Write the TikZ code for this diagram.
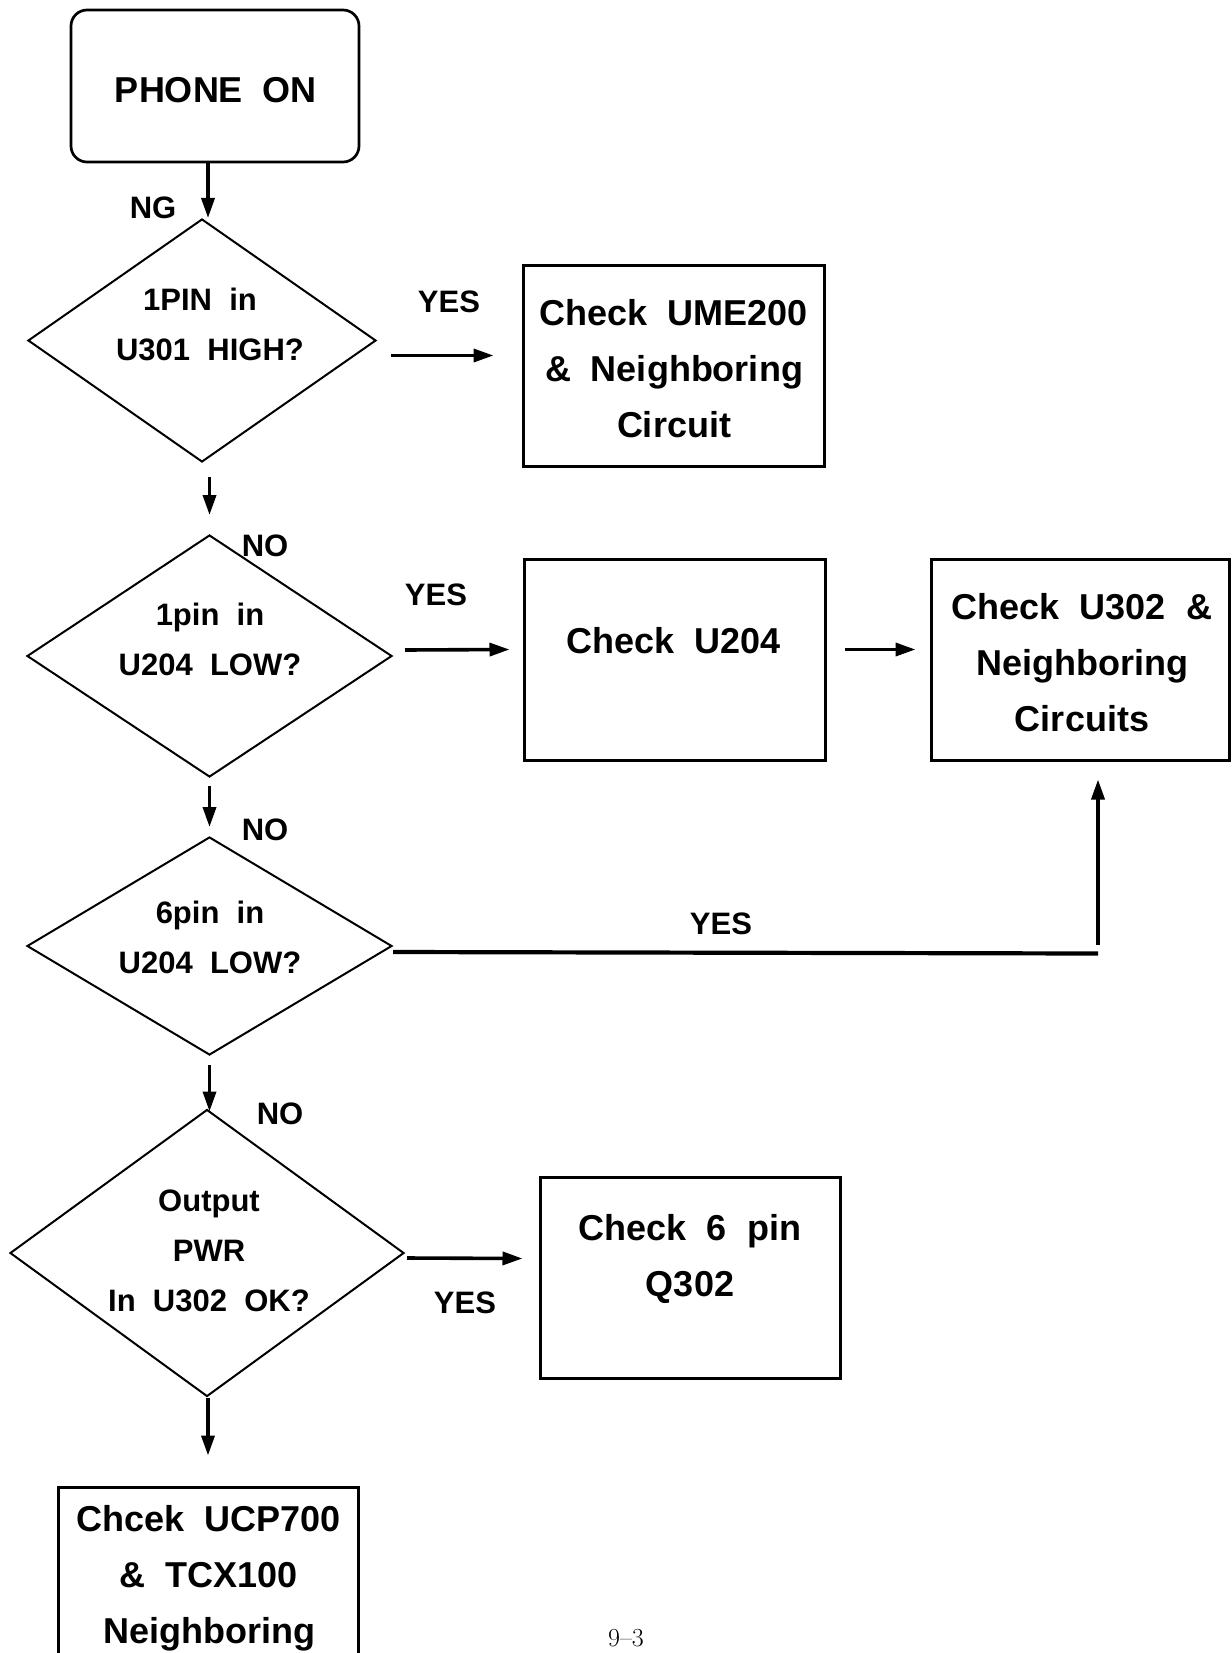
\documentclass[tikz,border=0pt]{standalone}
\usepackage{fontspec}
\newfontfamily\arial{Liberation Sans}
\usetikzlibrary{shapes.geometric,arrows.meta,calc}
\begin{document}
\begin{tikzpicture}[x=1pt,y=-1pt,
  dia/.style={draw, line width=2pt, shape=diamond, inner sep=0pt, shape aspect=1},
  box/.style={draw, line width=3pt, rectangle, inner sep=0pt},
  txt/.style={font=\arial\bfseries\fontsize{36}{56}\selectfont, align=center, inner sep=0pt},
  dtxt/.style={font=\arial\bfseries\fontsize{31}{50}\selectfont, align=center, inner sep=0pt},
  lbl/.style={font=\arial\bfseries\fontsize{31}{37}\selectfont, inner sep=0pt},
  arr/.style={line width=3.6pt, -{Triangle[length=20pt,width=13pt]}}
]
\useasboundingbox (0,0) rectangle (1231,1653);
\clip (0,0) rectangle (1231,1653);

% start
\node[draw, line width=2.7pt, rounded corners=16pt, minimum width=288pt, minimum height=152pt] (start) at (215,86) {};
\node[txt] (startt) at (216,90) {PHONE\ \ ON};

% diamonds
\node[dia, minimum width=348pt, minimum height=243pt] (d1) at (202,340.5) {};
\node[dtxt] (d1t) at (210,324.5) {1PIN\ \ in\hspace*{20pt}\\U301\ \ HIGH?};

\node[dia, minimum width=365pt, minimum height=242pt] (d2) at (209.5,656) {};
\node[dtxt] (d2t) at (210,639.5) {1pin\ \ in\\U204\ \ LOW?};

\node[dia, minimum width=365pt, minimum height=218pt] (d3) at (209.5,946) {};
\node[dtxt] (d3t) at (210,937) {6pin\ \ in\\U204\ \ LOW?};

\node[dia, minimum width=394pt, minimum height=287pt] (d4) at (207,1253) {};
\node[dtxt] (d4t) at (209,1251) {Output\\PWR\\In\ \ U302\ \ OK?};

% boxes
\node[box, minimum width=301pt, minimum height=201pt] (b1) at (673.5,365.5) {};
\node[txt] (b1t) at (674,369) {Check\ \ UME200\\\&\ \ Neighboring\\Circuit};

\node[box, minimum width=301pt, minimum height=201pt] (b2) at (674.5,659.5) {};
\node[txt] (b2t) at (674,641) {Check\ \ U204};

\node[box, minimum width=298pt, minimum height=201pt] (b3) at (1080,659.5) {};
\node[txt] (b3t) at (1082,662.5) {Check\ \ U302\ \ \&\\Neighboring\\Circuits};

\node[box, minimum width=300pt, minimum height=201pt] (b4) at (690,1277.5) {};
\node[txt] (b4t) at (690,1258.5) {Check\ \ 6\ \ pin\\Q302};

\node[box, minimum width=300pt, minimum height=220pt] (b5) at (208,1597) {};
\node[txt] (b5t) at (209,1578) {Chcek\ \ UCP700\\\&\ \ TCX100\\Neighboring};

% labels
\node[lbl] (ng) at (153,208) {NG};
\node[lbl] (y1) at (449,302) {YES};
\node[lbl] (n2) at (265,546) {NO};
\node[lbl] (y2) at (436,595) {YES};
\node[lbl] (n3) at (265,830) {NO};
\node[lbl] (y3) at (721,924) {YES};
\node[lbl] (n4) at (280,1114) {NO};
\node[lbl] (y4) at (465,1303) {YES};

% connectors
\draw[arr] ($(start.south)+(-7,0)$) -- ($(start.south |- d1.north)+(-7,0)$);
\draw[arr] ($(d1.south -| d2.north)+(0,14)$) -- ($(d2.north)+(0,-19)$);
\draw[arr] ($(d1.east)+(14,15)$) -- ($(b1.west)+(-28,-10)$);
\draw[arr] ($(d2.east)+(12,-6)$) -- ($(b2.west)+(-13,-10)$);
\draw[arr] ($(b2.east)+(18,-10)$) -- ($(b3.west)+(-14,-10)$);
\coordinate (c1) at ($(b3.south)+(18,192)$);
\draw[line width=4.2pt] ($(d3.east)+(0,6)$) -- (c1);
\draw[arr] ($(c1)+(0,-9)$) -- ($(b3.south)+(18,18)$);
\draw[arr] ($(d2.south)+(0,8)$) -- ($(d3.north)+(0,-9)$);
\draw[arr] ($(d3.south)+(0,9)$) -- ($(d4.north -| d3.south)+(0,3)$);
\draw[arr] ($(d4.east)+(2,5)$) -- ($(b4.west)+(-16,-19)$);
\draw[arr] (d4.south -| b5.north) -- ($(b5.north)+(0,-30)$);

% page number
\node[font=\fontsize{26}{28}\selectfont, anchor=base, inner sep=0pt] (pg) at (626,1646) {9--3};
\end{tikzpicture}
\end{document}
